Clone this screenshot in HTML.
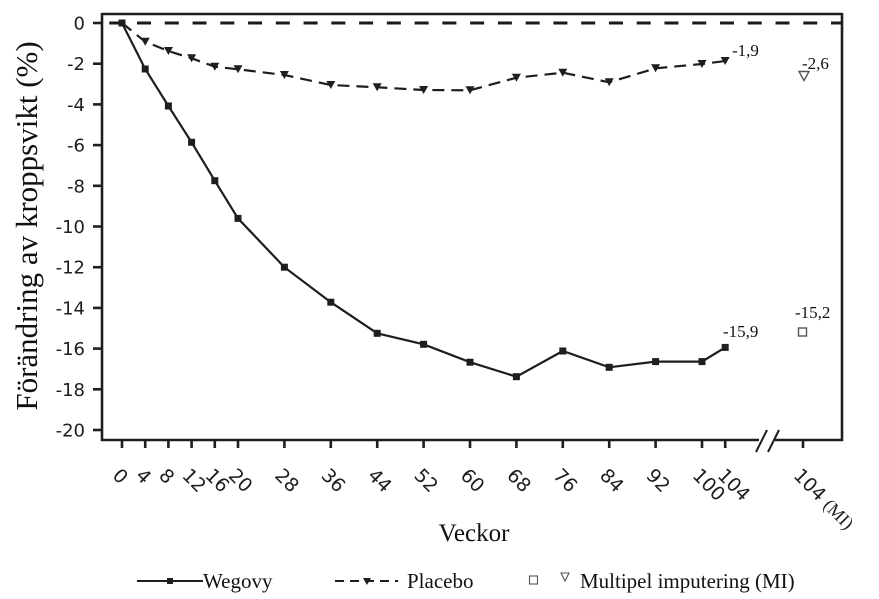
<!DOCTYPE html>
<html>
<head>
<meta charset="utf-8">
<style>
  html, body { margin:0; padding:0; background:#ffffff; }
  svg { display:block; }
  .tk { font-family:"DejaVu Sans","Liberation Sans",sans-serif; font-size:18px; fill:#1e1e1e; }
  .tx { font-family:"DejaVu Sans","Liberation Sans",sans-serif; font-size:19px; fill:#1e1e1e; }
  .sf { font-family:"Liberation Serif","Times New Roman",serif; fill:#111; }
</style>
</head>
<body>
<svg width="879" height="599" viewBox="0 0 879 599" xmlns="http://www.w3.org/2000/svg">
  <rect width="879" height="599" fill="#fff"/>

  <!-- Y axis label -->
  <text class="sf" font-size="31" text-anchor="middle" transform="translate(37,226) rotate(-90)">Förändring av kroppsvikt (%)</text>

  <!-- Frame -->
  <line x1="102" y1="14" x2="842" y2="14" stroke="#1e1e1e" stroke-width="2.6"/>
  <line x1="102" y1="13" x2="102" y2="441" stroke="#1e1e1e" stroke-width="2.6"/>
  <line x1="842" y1="13" x2="842" y2="441" stroke="#1e1e1e" stroke-width="2.6"/>
  <line x1="101" y1="440" x2="759" y2="440" stroke="#1e1e1e" stroke-width="2.6"/>
  <line x1="775" y1="440" x2="843" y2="440" stroke="#1e1e1e" stroke-width="2.6"/>
  <!-- axis break -->
  <line x1="756" y1="452" x2="767" y2="430" stroke="#1e1e1e" stroke-width="2"/>
  <line x1="768" y1="452" x2="779" y2="430" stroke="#1e1e1e" stroke-width="2"/>

  <!-- Y ticks -->
  <g stroke="#1e1e1e" stroke-width="2.6">
    <line x1="93" y1="23" x2="102" y2="23"/>
    <line x1="93" y1="63.7" x2="102" y2="63.7"/>
    <line x1="93" y1="104.4" x2="102" y2="104.4"/>
    <line x1="93" y1="145.1" x2="102" y2="145.1"/>
    <line x1="93" y1="185.8" x2="102" y2="185.8"/>
    <line x1="93" y1="226.5" x2="102" y2="226.5"/>
    <line x1="93" y1="267.2" x2="102" y2="267.2"/>
    <line x1="93" y1="307.9" x2="102" y2="307.9"/>
    <line x1="93" y1="348.6" x2="102" y2="348.6"/>
    <line x1="93" y1="389.3" x2="102" y2="389.3"/>
    <line x1="93" y1="430" x2="102" y2="430"/>
  </g>
  <g class="tk" text-anchor="end">
    <text x="85" y="29.5">0</text>
    <text x="85" y="70.2">-2</text>
    <text x="85" y="110.9">-4</text>
    <text x="85" y="151.6">-6</text>
    <text x="85" y="192.3">-8</text>
    <text x="85" y="233">-10</text>
    <text x="85" y="273.7">-12</text>
    <text x="85" y="314.4">-14</text>
    <text x="85" y="355.1">-16</text>
    <text x="85" y="395.8">-18</text>
    <text x="85" y="436.5">-20</text>
  </g>

  <!-- X ticks -->
  <g stroke="#1e1e1e" stroke-width="2.6">
    <line x1="122" y1="440" x2="122" y2="448"/>
    <line x1="145.2" y1="440" x2="145.2" y2="448"/>
    <line x1="168.4" y1="440" x2="168.4" y2="448"/>
    <line x1="191.6" y1="440" x2="191.6" y2="448"/>
    <line x1="214.8" y1="440" x2="214.8" y2="448"/>
    <line x1="238" y1="440" x2="238" y2="448"/>
    <line x1="284.4" y1="440" x2="284.4" y2="448"/>
    <line x1="330.8" y1="440" x2="330.8" y2="448"/>
    <line x1="377.2" y1="440" x2="377.2" y2="448"/>
    <line x1="423.6" y1="440" x2="423.6" y2="448"/>
    <line x1="470" y1="440" x2="470" y2="448"/>
    <line x1="516.4" y1="440" x2="516.4" y2="448"/>
    <line x1="562.8" y1="440" x2="562.8" y2="448"/>
    <line x1="609.2" y1="440" x2="609.2" y2="448"/>
    <line x1="655.6" y1="440" x2="655.6" y2="448"/>
    <line x1="702" y1="440" x2="702" y2="448"/>
    <line x1="725.2" y1="440" x2="725.2" y2="448"/>
    <line x1="803" y1="440" x2="803" y2="448"/>
  </g>
  <g class="tx">
    <text transform="translate(111.5,476.5) rotate(45)">0</text>
    <text transform="translate(134.7,476.5) rotate(45)">4</text>
    <text transform="translate(157.9,476.5) rotate(45)">8</text>
    <text transform="translate(181.1,476.5) rotate(45)">12</text>
    <text transform="translate(204.3,476.5) rotate(45)">16</text>
    <text transform="translate(227.5,476.5) rotate(45)">20</text>
    <text transform="translate(273.9,476.5) rotate(45)">28</text>
    <text transform="translate(320.3,476.5) rotate(45)">36</text>
    <text transform="translate(366.7,476.5) rotate(45)">44</text>
    <text transform="translate(413.1,476.5) rotate(45)">52</text>
    <text transform="translate(459.5,476.5) rotate(45)">60</text>
    <text transform="translate(505.9,476.5) rotate(45)">68</text>
    <text transform="translate(552.3,476.5) rotate(45)">76</text>
    <text transform="translate(598.7,476.5) rotate(45)">84</text>
    <text transform="translate(645.1,476.5) rotate(45)">92</text>
    <text transform="translate(691.5,476.5) rotate(45)">100</text>
    <text transform="translate(716.5,476.5) rotate(45)">104</text>
    <text transform="translate(792.5,476.5) rotate(45)">104 <tspan font-family="Liberation Serif, serif" font-size="18">(MI)</tspan></text>
  </g>

  <!-- X axis title -->
  <text class="sf" font-size="25" x="474" y="541" text-anchor="middle">Veckor</text>

  <!-- Zero dashed line -->
  <line x1="102" y1="23" x2="842" y2="23" stroke="#1a1a1a" stroke-width="3" stroke-dasharray="14 13.76" stroke-dashoffset="20.5"/>

  <!-- Placebo -->
  <polyline fill="none" stroke="#1e1e1e" stroke-width="2.2" stroke-dasharray="12 7"
    points="122,23 145.2,41.7 168.4,51 191.6,58.3 214.8,66.7 238,69.3 284.4,75 330.8,85 377.2,87.3 423.6,90 470,90.3 516.4,77.7 562.8,72.7 609.2,82.3 655.6,68.3 702,64 725.2,61"/>
  <g fill="#1e1e1e">
    <polygon points="140.7,37.7 149.7,37.7 145.2,45.7"/>
    <polygon points="163.9,47 172.9,47 168.4,55"/>
    <polygon points="187.1,54.3 196.1,54.3 191.6,62.3"/>
    <polygon points="210.3,62.7 219.3,62.7 214.8,70.7"/>
    <polygon points="233.5,65.3 242.5,65.3 238,73.3"/>
    <polygon points="279.9,71 288.9,71 284.4,79"/>
    <polygon points="326.3,81 335.3,81 330.8,89"/>
    <polygon points="372.7,83.3 381.7,83.3 377.2,91.3"/>
    <polygon points="419.1,86 428.1,86 423.6,94"/>
    <polygon points="465.5,86.3 474.5,86.3 470,94.3"/>
    <polygon points="511.9,73.7 520.9,73.7 516.4,81.7"/>
    <polygon points="558.3,68.7 567.3,68.7 562.8,76.7"/>
    <polygon points="604.7,78.3 613.7,78.3 609.2,86.3"/>
    <polygon points="651.1,64.3 660.1,64.3 655.6,72.3"/>
    <polygon points="697.5,60 706.5,60 702,68"/>
    <polygon points="720.7,57 729.7,57 725.2,65"/>
  </g>

  <!-- Wegovy -->
  <polyline fill="none" stroke="#1e1e1e" stroke-width="2.2"
    points="122,23 145.2,69 168.4,106 191.6,142.3 214.8,180.7 238,218.4 284.4,267.2 330.8,302.2 377.2,333.3 423.6,344.3 470,362.2 516.4,376.7 562.8,351 609.2,367.3 655.6,361.6 702,361.6 725.2,347.4"/>
  <g fill="#1e1e1e">
    <rect x="118.5" y="19.5" width="7" height="7"/>
    <rect x="141.7" y="65.5" width="7" height="7"/>
    <rect x="164.9" y="102.5" width="7" height="7"/>
    <rect x="188.1" y="138.8" width="7" height="7"/>
    <rect x="211.3" y="177.2" width="7" height="7"/>
    <rect x="234.5" y="214.9" width="7" height="7"/>
    <rect x="280.9" y="263.7" width="7" height="7"/>
    <rect x="327.3" y="298.7" width="7" height="7"/>
    <rect x="373.7" y="329.8" width="7" height="7"/>
    <rect x="420.1" y="340.8" width="7" height="7"/>
    <rect x="466.5" y="358.7" width="7" height="7"/>
    <rect x="512.9" y="373.2" width="7" height="7"/>
    <rect x="559.3" y="347.5" width="7" height="7"/>
    <rect x="605.7" y="363.8" width="7" height="7"/>
    <rect x="652.1" y="358.1" width="7" height="7"/>
    <rect x="698.5" y="358.1" width="7" height="7"/>
    <rect x="721.7" y="343.9" width="7" height="7"/>
  </g>

  <!-- MI markers -->
  <polygon points="799,71.5 809,71.5 804,80.5" fill="#fff" stroke="#555" stroke-width="1.4"/>
  <rect x="798.5" y="328" width="8" height="8" fill="#fff" stroke="#555" stroke-width="1.4"/>

  <!-- Annotations -->
  <g class="sf" font-size="17">
    <text x="732" y="56">-1,9</text>
    <text x="802" y="69">-2,6</text>
    <text x="723" y="337">-15,9</text>
    <text x="795" y="318">-15,2</text>
  </g>

  <!-- Legend -->
  <line x1="137" y1="581" x2="203" y2="581" stroke="#1e1e1e" stroke-width="2"/>
  <rect x="167" y="578" width="6" height="6" fill="#1e1e1e"/>
  <text class="sf" font-size="21" x="203" y="588">Wegovy</text>

  <line x1="335" y1="581" x2="398" y2="581" stroke="#1e1e1e" stroke-width="2" stroke-dasharray="9 6"/>
  <polygon points="363,578 371,578 367,585" fill="#1e1e1e"/>
  <text class="sf" font-size="21" x="407" y="588">Placebo</text>

  <rect x="529.5" y="576" width="8" height="8" fill="#fff" stroke="#555" stroke-width="1.1"/>
  <polygon points="561,573 569,573 565,581" fill="#fff" stroke="#555" stroke-width="1.1"/>
  <text class="sf" font-size="21" x="580" y="588">Multipel imputering (MI)</text>
</svg>
</body>
</html>
